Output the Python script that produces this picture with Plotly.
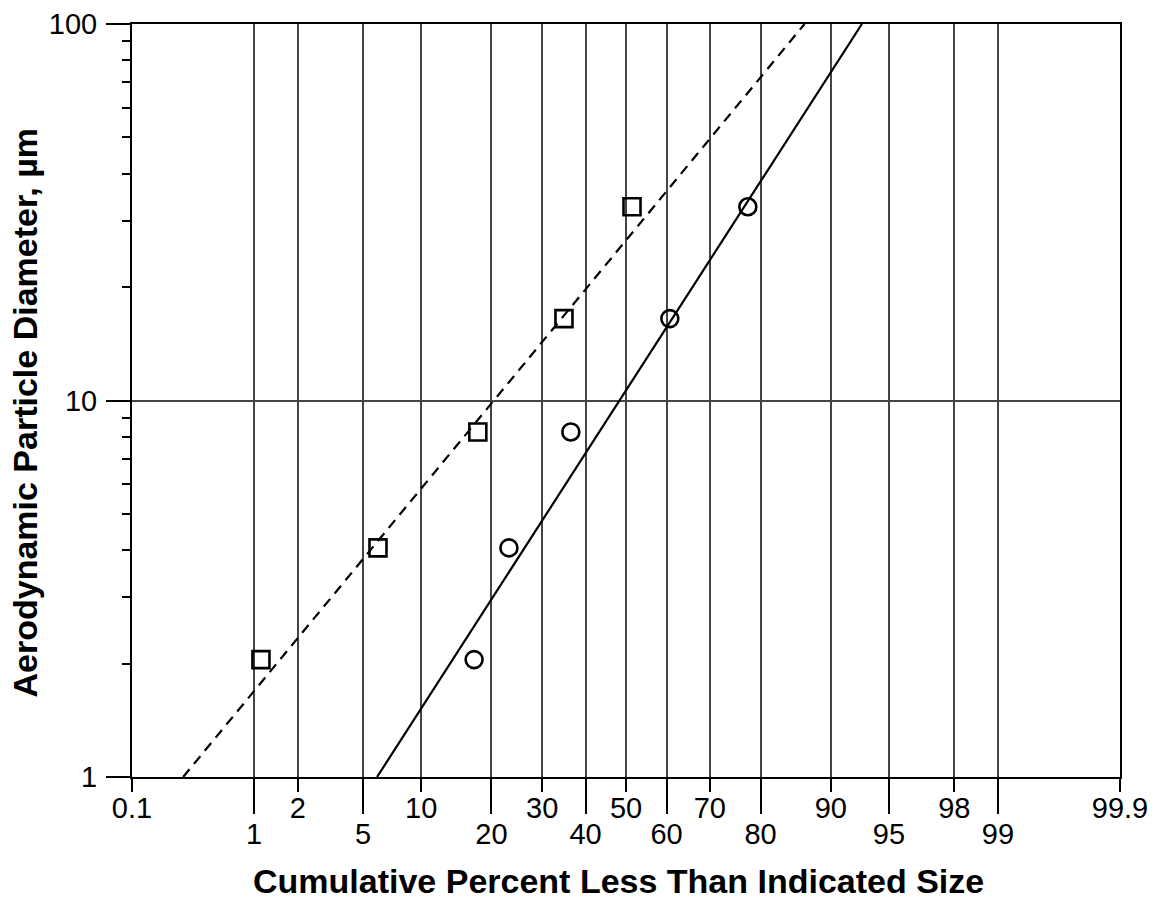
from statistics import NormalDist
import plotly.graph_objects as go

# ---- data ----
diameter_um = [2.05, 4.06, 8.25, 16.5, 32.7]
pct_squares = [1.12, 6.04, 17.7, 34.9, 51.5]
pct_circles = [17.1, 23.2, 36.5, 60.8, 77.7]

dashed_fit_pct = [0.280, 86.8]
dashed_fit_diam = [1, 100]
solid_fit_pct = [5.97, 93.0]
solid_fit_diam = [1, 100]

ticks_row1 = [0.1, 2, 10, 30, 50, 70, 90, 98, 99.9]
ticks_row2 = [1, 5, 20, 40, 60, 80, 95, 99]
y_ticks = [1, 10, 100]
y_minor = [2, 3, 4, 5, 6, 7, 8, 9, 20, 30, 40, 50, 60, 70, 80, 90]

x_title = "Cumulative Percent Less Than Indicated Size"
y_title = "Aerodynamic Particle Diameter, µm"

nd = NormalDist()
def z(p):
    return [nd.inv_cdf(v / 100.0) for v in p]

def lab(v):
    return f"{v:g}"

FONT = "Liberation Sans, Arial, sans-serif"
xr = [nd.inv_cdf(0.001), nd.inv_cdf(0.999)]
GRID = "#444"

fig = go.Figure()
fig.add_trace(go.Scatter(x=z(dashed_fit_pct), y=dashed_fit_diam, mode="lines",
                         line=dict(color="black", width=2.2, dash="10px,7px"),
                         showlegend=False, hoverinfo="skip"))
fig.add_trace(go.Scatter(x=z(solid_fit_pct), y=solid_fit_diam, mode="lines",
                         line=dict(color="black", width=2.2),
                         showlegend=False, hoverinfo="skip"))
fig.add_trace(go.Scatter(x=z(pct_squares), y=diameter_um, mode="markers",
                         marker=dict(symbol="square-open", size=17, color="black",
                                     line=dict(width=2.6, color="black")),
                         showlegend=False))
fig.add_trace(go.Scatter(x=z(pct_circles), y=diameter_um, mode="markers",
                         marker=dict(symbol="circle-open", size=17, color="black",
                                     line=dict(width=2.6, color="black")),
                         showlegend=False))
fig.add_trace(go.Scatter(x=[xr[0]], y=[1], xaxis="x2", mode="markers",
                         marker=dict(opacity=0), showlegend=False, hoverinfo="skip"))

fig.update_layout(
    template="none",
    width=1152, height=903,
    margin=dict(l=132, r=32, t=24, b=126),
    paper_bgcolor="white", plot_bgcolor="white",
    font=dict(family=FONT, color="black"),
    xaxis=dict(
        automargin=False,
        range=xr, tickmode="array", tickvals=z(ticks_row1),
        ticktext=[lab(v) for v in ticks_row1],
        ticks="outside", ticklen=13, tickwidth=1.5, tickcolor="black",
        ticklabelstandoff=-9,
        showgrid=True, gridcolor=GRID, gridwidth=1.5,
        showline=True, linecolor="black", linewidth=2, mirror=True,
        zeroline=False, tickfont=dict(size=29, family=FONT),
    ),
    xaxis2=dict(
        automargin=False,
        range=xr, overlaying="x", side="bottom", anchor="y",
        tickmode="array", tickvals=z(ticks_row2),
        ticktext=[lab(v) for v in ticks_row2],
        ticks="outside", ticklen=36, tickwidth=1.5, tickcolor="black",
        ticklabelstandoff=-5,
        showgrid=True, gridcolor=GRID, gridwidth=1.5,
        showline=False, zeroline=False, tickfont=dict(size=29, family=FONT),
    ),
    yaxis=dict(
        automargin=False,
        type="log", range=[0, 2], tickmode="array", tickvals=y_ticks,
        ticktext=[lab(v) for v in y_ticks],
        ticks="outside", ticklen=24, tickwidth=1.5, tickcolor="black",
        ticklabelstandoff=3,
        minor=dict(ticks="outside", ticklen=8, tickcolor="black", tickwidth=1.5,
                   tickvals=y_minor, showgrid=False),
        showgrid=True, gridcolor=GRID, gridwidth=1.5,
        showline=True, linecolor="black", linewidth=2, mirror=True,
        zeroline=False, tickfont=dict(size=29, family=FONT),
    ),
    annotations=[
        dict(text=f"<b>{x_title}</b>", xref="paper", yref="paper", x=0.5, y=0,
             xanchor="center", yanchor="middle", xshift=-8, yshift=-104,
             showarrow=False, font=dict(size=34, family=FONT, color="black")),
        dict(text=f"<b>{y_title}</b>", xref="paper", yref="paper", x=0, y=0.5,
             xanchor="center", yanchor="middle", xshift=-108, yshift=-12,
             textangle=-90, showarrow=False,
             font=dict(size=34, family=FONT, color="black")),
    ],
)

fig.write_html("out.html", config={"displayModeBar": False},
               post_script="document.body.style.margin='0';")
